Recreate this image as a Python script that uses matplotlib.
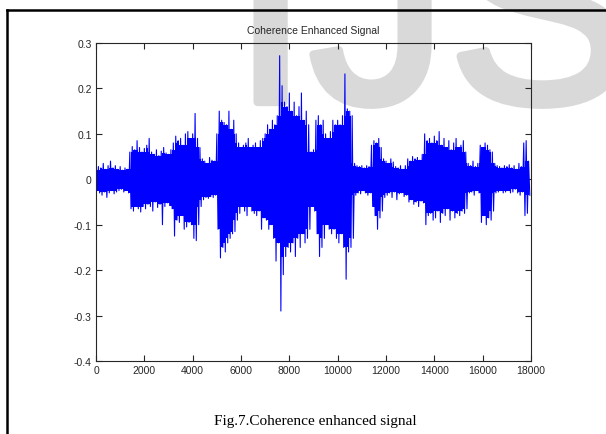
"""
Coherence enhanced signal (MATLAB-style figure)
"""
import numpy as np
import matplotlib.pyplot as plt
import matplotlib.patheffects as pe
from matplotlib.lines import Line2D

plt.rcParams['axes.unicode_minus'] = False

# sample index of each envelope reading (every 100 samples)
step = 100
n_samples = 18000

# upper peaks of the signal (x1e-3)
upper = [20, 28, 25, 35, 22, 30, 40, 25, 30, 22,
         28, 20, 25, 22, 60, 72, 65, 85, 70, 60,
         68, 75, 90, 60, 55, 65, 52, 62, 70, 58,
         55, 65, 80, 95, 85, 90, 75, 100, 105, 90,
         100, 145, 90, 70, 45, 40, 35, 48, 42, 40,
         100, 150, 130, 125, 120, 150, 110, 130, 100, 80,
         70, 75, 80, 90, 70, 75, 80, 70, 85, 90,
         100, 120, 110, 130, 120, 140, 272, 206, 170, 160,
         190, 150, 170, 140, 160, 190, 130, 150, 120, 60,
         65, 130, 140, 120, 130, 100, 90, 105, 130, 120,
         130, 120, 140, 232, 155, 150, 140, 35, 30, 28,
         30, 25, 30, 28, 75, 85, 80, 90, 70, 45,
         40, 35, 45, 38, 28, 25, 30, 22, 30, 45,
         40, 50, 45, 48, 42, 55, 100, 85, 90, 80,
         95, 85, 105, 75, 90, 70, 85, 65, 80, 90,
         70, 75, 85, 60, 35, 30, 40, 28, 35, 75,
         70, 80, 75, 65, 60, 35, 30, 28, 25, 30,
         28, 32, 25, 30, 22, 35, 28, 80, 85, 40]

# lower peaks (magnitude, x1e-3)
lower = [25, 30, 35, 28, 40, 30, 25, 32, 28, 25,
         22, 28, 25, 30, 65, 70, 60, 65, 72, 60,
         65, 55, 60, 70, 50, 62, 55, 100, 60, 52,
         58, 65, 125, 90, 95, 80, 110, 105, 95, 100,
         130, 135, 100, 60, 45, 40, 42, 38, 40, 35,
         110, 173, 150, 160, 140, 130, 120, 115, 90, 75,
         60, 70, 80, 60, 70, 75, 80, 70, 110, 85,
         90, 110, 100, 130, 180, 140, 290, 210, 170, 150,
         160, 140, 170, 130, 150, 120, 140, 130, 110, 60,
         70, 120, 170, 150, 130, 100, 110, 120, 110, 130,
         140, 120, 150, 220, 160, 150, 130, 35, 30, 32,
         25, 30, 35, 30, 60, 80, 110, 85, 70, 40,
         35, 30, 40, 28, 45, 32, 30, 38, 35, 50,
         45, 55, 50, 60, 48, 52, 100, 80, 75, 90,
         85, 70, 95, 75, 80, 65, 90, 70, 85, 75,
         80, 70, 75, 65, 30, 28, 35, 25, 30, 95,
         80, 100, 85, 90, 70, 30, 28, 25, 30, 28,
         25, 30, 28, 22, 30, 35, 28, 80, 75, 35]

xticks = np.arange(0, 18001, 2000)
yticks = [-0.4, -0.3, -0.2, -0.1, 0, 0.1, 0.2, 0.3]
ytick_labels = ['-0.4', '-0.3', '-0.2', '-0.1', '0', '0.1', '0.2', '0.3']

up = np.array(upper) / 1000.0
lo = -np.array(lower) / 1000.0
s = np.arange(len(upper)) * step
# alternate the peaks so the trace swings up/down like the real signal
x = np.empty(2*len(s))
y = np.empty(2*len(s))
x[0::2] = s
x[1::2] = s + step/2
y[0::2] = up
y[1::2] = lo

# dense core: smallest neighbouring peak, so the spikes stand out
up_pad = np.pad(up, 1, mode='edge')
lo_pad = np.pad(lo, 1, mode='edge')
core_up = np.minimum(np.minimum(up_pad[:-2], up_pad[1:-1]), up_pad[2:])
core_lo = np.maximum(np.maximum(lo_pad[:-2], lo_pad[1:-1]), lo_pad[2:])

fig = plt.figure(figsize=(6.06, 4.35), dpi=100)
fig.patch.set_facecolor('white')

# faint watermark behind everything
wm = fig.text(232/606, 1-103/435, 'IJS', fontsize=200, color='#d9d9d9',
              family='Liberation Sans', ha='left', va='baseline', zorder=-1)
wm.set_path_effects([pe.withStroke(linewidth=6, foreground='#d9d9d9')])

ax = fig.add_axes([96/606, 1-362/435, 435/606, 318/435])
ax.set_facecolor('none')
ax.fill_between(s, core_lo, core_up, step='mid', color='#0000ff', lw=0)
ax.plot(x, y, color='#0000ff', lw=0.8)
ax.set_xlim(0, n_samples)
ax.set_ylim(-0.4, 0.3)
ax.set_xticks(xticks)
ax.set_yticks(yticks)
ax.set_yticklabels(ytick_labels)
ax.tick_params(direction='in', length=4, width=0.8, top=True, right=True,
               labelsize=7.5, colors='#262626', pad=3)
for t in ax.get_xticklabels() + ax.get_yticklabels():
    t.set_family('Liberation Sans')
for sp in ax.spines.values():
    sp.set_color('#262626')
    sp.set_linewidth(0.8)
ax.set_title('Coherence Enhanced Signal', fontsize=7.5, family='Liberation Sans',
             color='#262626', pad=7)

# caption and page frame
fig.text(315/606, 1-422/435, 'Fig.7.Coherence enhanced signal', fontsize=11,
         family='Liberation Serif', ha='center', va='center')
fig.add_artist(Line2D([7/606, 7/606], [0, 1-11/435], transform=fig.transFigure,
                      color='black', lw=1.8))
fig.add_artist(Line2D([7/606, 1], [1-11/435, 1-11/435], transform=fig.transFigure,
                      color='black', lw=1.8))

fig.savefig('out.png', dpi=100)
